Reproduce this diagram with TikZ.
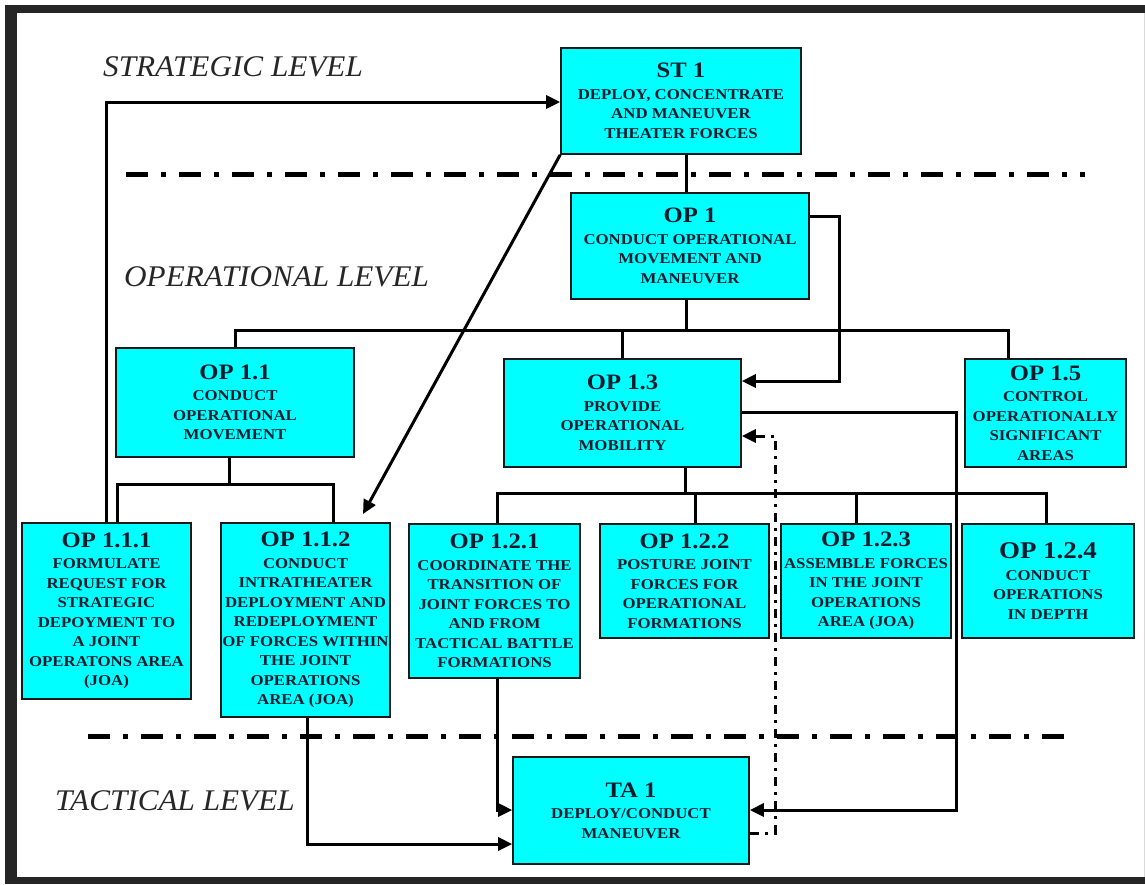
\documentclass[tikz,border=0pt]{standalone}
\usepackage{fontspec}
\setmainfont{Liberation Serif}
\newfontfamily\boxfont[FakeStretch=1.12]{Liberation Serif}
\newfontfamily\lvlfont[FakeStretch=1.04]{Liberation Serif}
\usetikzlibrary{arrows.meta}
\definecolor{boxcyan}{RGB}{0,255,255}
\definecolor{boxtext}{RGB}{12,28,45}
\tikzset{
 box/.style={draw=black!90, line width=1.6pt, fill=boxcyan, inner sep=0pt, align=center, text=boxtext, font=\boxfont\bfseries\fontsize{15}{19.5}\selectfont},
 conn/.style={line width=3pt, draw=black},
 arr/.style={conn, -{Triangle[length=14pt,width=13pt]}},
 lvlsep/.style={line width=5pt, draw=black, dash pattern=on 22pt off 13pt on 5pt off 13pt},
 ddconn/.style={line width=3pt, draw=black, dash pattern=on 9pt off 6pt on 3pt off 6pt, -{Triangle[length=14pt,width=13pt]}},
 lvl/.style={anchor=base west, inner sep=0pt, font=\lvlfont\itshape\fontsize{30}{30}\selectfont, text=black!85},
}
\newcommand{\ttl}[1]{{\fontsize{22}{22}\selectfont #1}\\[2pt]}
\begin{document}
\begin{tikzpicture}[x=1pt,y=-1pt]
\useasboundingbox (0,0) rectangle (1145,884);
% frame
\fill[black!85] (5,5) rectangle (1145,13);
\fill[black!85] (5,5) rectangle (17,884);
\fill[black!85] (5,877) rectangle (1145,884);
\draw[black!15, line width=1pt] (1144,13) -- (1144,877);

% level labels
\node[lvl] (lstr) at (103,76) {STRATEGIC LEVEL};
\node[lvl] (lop) at (124,286) {OPERATIONAL LEVEL};
\node[lvl] (ltac) at (55,810) {TACTICAL LEVEL};

% level separators
\coordinate (s1a) at (126,174); \coordinate (s1b) at (1085,174);
\coordinate (s2a) at (88,736); \coordinate (s2b) at (1065,736);
\draw[lvlsep] (s1a) -- (s1b);
\draw[lvlsep] (s2a) -- (s2b);

% boxes
\node[box, minimum width=240pt, minimum height=106pt] (st1) at (681,101)
 {\ttl{ST 1}DEPLOY, CONCENTRATE\\AND MANEUVER\\THEATER FORCES};
\node[box, minimum width=238pt, minimum height=106pt] (op1) at (690,246)
 {\ttl{OP 1}CONDUCT OPERATIONAL\\MOVEMENT AND\\MANEUVER};
\node[box, minimum width=238pt, minimum height=109pt] (op11) at (235,402.5)
 {\ttl{OP 1.1}CONDUCT\\OPERATIONAL\\MOVEMENT};
\node[box, minimum width=237pt, minimum height=108pt] (op13) at (622.5,413)
 {\ttl{OP 1.3}PROVIDE\\OPERATIONAL\\MOBILITY};
\node[box, minimum width=161pt, minimum height=108pt] (op15) at (1045.5,413)
 {\ttl{OP 1.5}CONTROL\\OPERATIONALLY\\SIGNIFICANT\\AREAS};
\node[box, minimum width=169pt, minimum height=176pt] (op111) at (106.5,611)
 {\ttl{OP 1.1.1}FORMULATE\\REQUEST FOR\\STRATEGIC\\DEPOYMENT TO\\A JOINT\\OPERATONS AREA\\(JOA)};
\node[box, minimum width=169pt, minimum height=194pt] (op112) at (305.5,620)
 {\ttl{OP 1.1.2}CONDUCT\\INTRATHEATER\\DEPLOYMENT AND\\REDEPLOYMENT\\OF FORCES WITHIN\\THE JOINT\\OPERATIONS\\AREA (JOA)};
\node[box, minimum width=171pt, minimum height=154pt] (op121) at (494.5,601)
 {\ttl{OP 1.2.1}COORDINATE THE\\TRANSITION OF\\JOINT FORCES TO\\AND FROM\\TACTICAL BATTLE\\FORMATIONS};
\node[box, minimum width=169pt, minimum height=114pt] (op122) at (684.5,581)
 {\ttl{OP 1.2.2}POSTURE JOINT\\FORCES FOR\\OPERATIONAL\\FORMATIONS};
\node[box, minimum width=170pt, minimum height=114pt] (op123) at (866,581)
 {\ttl{OP 1.2.3}ASSEMBLE FORCES\\IN THE JOINT\\OPERATIONS\\AREA (JOA)};
\node[box, minimum width=172pt, minimum height=114pt] (op124) at (1048,581)
 {{\fontsize{24}{24}\selectfont OP 1.2.4}\\[2pt]CONDUCT\\OPERATIONS\\IN DEPTH};
\node[box, minimum width=236pt, minimum height=107pt] (ta1) at (631,810.5)
 {\ttl{TA 1}DEPLOY/CONDUCT\\MANEUVER};

% junction coordinates
\coordinate (j0) at (686,0);
\coordinate (b1) at (686,330);
\coordinate (b1r) at (1008,330);
\coordinate (r1) at (839,216);
\coordinate (r2) at (839,381);
\coordinate (q1) at (956,412);
\coordinate (q2) at (956,810);
\coordinate (d1) at (775,833);
\coordinate (d2) at (775,436);
\coordinate (b2) at (685,493);
\coordinate (b2w) at (497,493);
\coordinate (b2e) at (1046,493);
\coordinate (b2a) at (695,493);
\coordinate (b2b) at (856,493);
\coordinate (c1) at (229,484);
\coordinate (cl) at (117,484);
\coordinate (cr) at (333,484);
\coordinate (a1) at (106,102);
\coordinate (t1) at (363,514);
\coordinate (e1) at (307,844);
\coordinate (f1) at (497,810);

% connectors
\draw[conn] (st1.south -| j0) -- (op1.north -| j0);
\draw[conn] (op1.south -| b1) -- (b1);
\draw[conn] (op11.north) |- (b1r) -- (b1r |- op15.north);
\draw[conn] (op13.north) -- (op13.north |- b1);
\draw[arr] (op1.east |- r1) -- (r1) -- (r2) -- (op13.east |- r2);
\draw[arr] (op13.east |- q1) -- (q1) -- (q2) -- (ta1.east |- q2);
\draw[ddconn] (ta1.east |- d1) -- (d1) -- (d2) -- (op13.east |- d2);
\draw[conn] (op13.south -| b2) -- (b2);
\draw[conn] (b2w |- op121.north) -- (b2w) -- (b2e) -- (b2e |- op124.north);
\draw[conn] (b2a) -- (b2a |- op122.north);
\draw[conn] (b2b) -- (b2b |- op123.north);
\draw[conn] (op11.south -| c1) -- (c1);
\draw[conn] (cl |- op111.north) -- (cl) -- (cr) -- (cr |- op112.north);
\draw[arr] (op111.north -| a1) -- (a1) -- (st1.west |- a1);
\draw[arr] (st1.south west) -- (t1);
\draw[arr] (op112.south -| e1) -- (e1) -- (ta1.west |- e1);
\draw[arr] (op121.south -| f1) -- (f1) -- (ta1.west |- f1);
\end{tikzpicture}
\end{document}
